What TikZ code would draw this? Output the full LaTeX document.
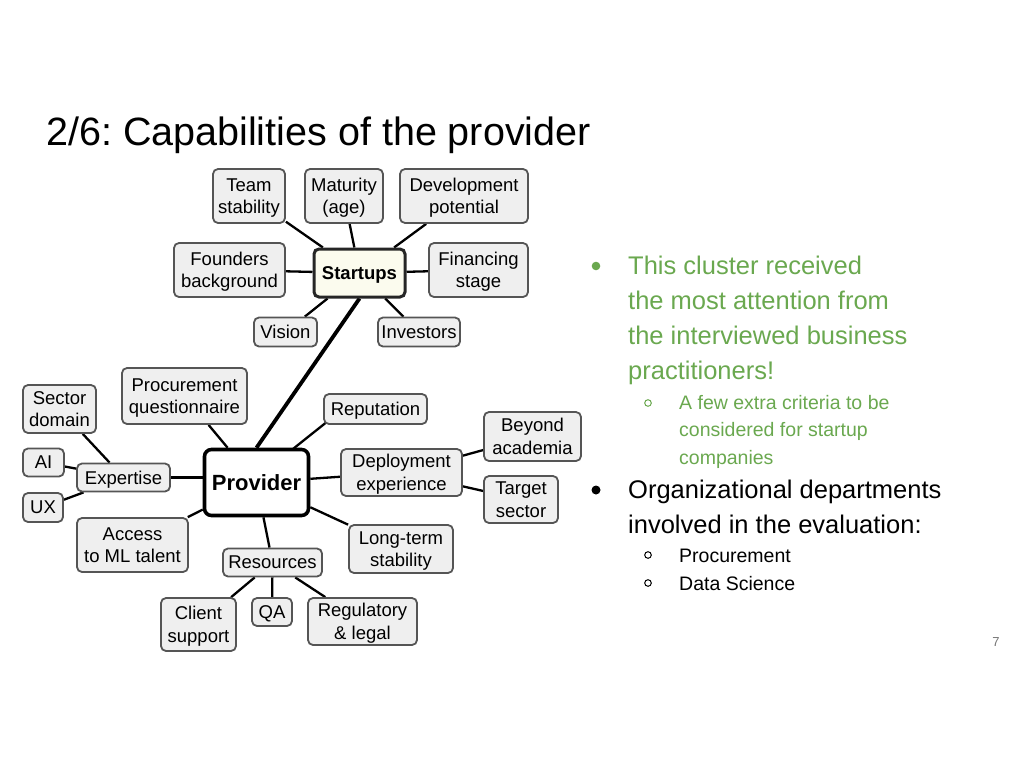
\documentclass[tikz,border=0pt]{standalone}
\usepackage{fontspec}
\setmainfont{Liberation Sans}
\frenchspacing
\usetikzlibrary{backgrounds,calc}
\definecolor{boxfill}{HTML}{EFEFEF}
\definecolor{boxline}{HTML}{555555}
\definecolor{stfill}{HTML}{FBFBEE}
\definecolor{grn}{HTML}{6AA84F}
\definecolor{pagegray}{HTML}{757575}
\begin{document}
\begin{tikzpicture}[x=1pt,y=-1pt,
  box/.style={draw=boxline, line width=1.8pt, fill=boxfill, rounded corners=5pt,
    inner sep=0pt, align=center, text depth=0pt, font=\fontsize{18.5}{22.5}\selectfont},
  hubbox/.style={box, draw=black!85, line width=3pt, fill=stfill, font=\bfseries\fontsize{18.5}{22}\selectfont},
  rootbox/.style={box, draw=black, line width=3.6pt, fill=white, rounded corners=7pt, font=\bfseries\fontsize{22}{26}\selectfont},
  link/.style={line width=2.3pt, black},
  biglink/.style={line width=3.8pt, black},
  mainline/.style={anchor=base west, inner sep=0pt, font=\fontsize{25.5}{30}\selectfont},
  subline/.style={anchor=base west, inner sep=0pt, font=\fontsize{19.5}{23}\selectfont},
]
\useasboundingbox (0,0) rectangle (1024,768);

% title
\node[anchor=base west, inner sep=0pt, font=\fontsize{39.5}{45}\selectfont] (title) at (46,145) {2/6: Capabilities of the provider};

% Startups cluster
\node[hubbox, minimum width=91pt, minimum height=48pt] (st) at (359.5,273) {Startups};
\node[box, minimum width=72pt, minimum height=54pt] (ts) at (249,196) {Team\\stability};
\node[box, minimum width=78pt, minimum height=54pt] (mat) at (344,196) {Maturity\\(age)};
\node[box, minimum width=128pt, minimum height=54pt] (dev) at (464,196) {Development\\potential};
\node[box, minimum width=111pt, minimum height=54pt] (fb) at (229.5,270) {Founders\\background};
\node[box, minimum width=99pt, minimum height=54pt] (fin) at (478.5,270) {Financing\\stage};
\node[box, minimum width=63pt, minimum height=29pt] (vis) at (285.5,332) {Vision};
\node[box, minimum width=82pt, minimum height=29pt] (inv) at (419,332) {Investors};

% Provider cluster
\node[rootbox, minimum width=104pt, minimum height=66pt] (pr) at (256.5,482.5) {Provider};
\node[box, minimum width=125pt, minimum height=56pt] (pq) at (184.5,396) {Procurement\\questionnaire};
\node[box, minimum width=73pt, minimum height=48pt] (sd) at (59.5,409) {Sector\\domain};
\node[box, minimum width=103pt, minimum height=30pt] (rep) at (375.5,409) {Reputation};
\node[box, minimum width=97pt, minimum height=49pt] (ba) at (532.5,436.5) {Beyond\\academia};
\node[box, minimum width=41pt, minimum height=28pt] (ai) at (43.5,462.5) {AI};
\node[box, minimum width=93pt, minimum height=28pt] (exp) at (123.5,477.5) {Expertise};
\node[box, minimum width=121pt, minimum height=47pt] (dep) at (401.5,472.5) {Deployment\\experience};
\node[box, minimum width=74pt, minimum height=47pt] (tsec) at (521,499.5) {Target\\sector};
\node[box, minimum width=40pt, minimum height=29pt] (ux) at (43,507.5) {UX};
\node[box, minimum width=111pt, minimum height=54pt] (acc) at (132.5,545) {Access\\to ML talent};
\node[box, minimum width=104pt, minimum height=48pt] (lt) at (401,549) {Long-term\\stability};
\node[box, minimum width=99pt, minimum height=28pt] (res) at (272.5,562.5) {Resources};
\node[box, minimum width=75pt, minimum height=53pt] (cs) at (198.5,624.5) {Client\\support};
\node[box, minimum width=40pt, minimum height=28pt] (qa) at (272,612) {QA};
\node[box, minimum width=109pt, minimum height=47pt] (reg) at (362.5,621.5) {Regulatory\\\& legal};

% connectors
\begin{scope}[on background layer]
\draw[link] (ts) -- (st);
\draw[link] (mat) -- (st);
\draw[link] (dev) -- (st);
\draw[link] (fb) -- (st);
\draw[link] (fin) -- (st);
\draw[link] (vis) -- (st);
\draw[link] (inv) -- (st);
\draw[biglink] (st.south) -- (pr.north);
\draw[link] (pq) -- (pr);
\draw[link] ($(pr.north east)+(-17,1)$) -- ($(rep.south west)+(5,-4)$);
\draw[link] (exp.east) -- (exp.east -| pr.west);
\draw[link] (sd) -- (exp);
\draw[link] (ai) -- (exp);
\draw[link] (ux) -- (exp);
\draw[link] (acc) -- (pr);
\draw[link] (res) -- (pr);
\draw[link] (cs) -- (res);
\draw[link] (qa) -- (res);
\draw[link] (reg) -- (res);
\draw[link] (dep) -- (pr);
\draw[link] (ba) -- (dep);
\draw[link] (tsec) -- (dep);
\draw[link] (lt) -- (pr);
\end{scope}

% right-hand text
\fill[grn] (596,266) circle (4.3pt);
\node[mainline, text=grn] (g1) at (628,274) {This cluster received};
\node[mainline, text=grn] (g2) at (628,309) {the most attention from};
\node[mainline, text=grn] (g3) at (628,344) {the interviewed business};
\node[mainline, text=grn] (g4) at (628,379) {practitioners!};
\draw[grn, line width=1pt] (648,403) circle (3.3pt);
\node[subline, text=grn] (s1) at (679,409) {A few extra criteria to be};
\node[subline, text=grn] (s2) at (679,436) {considered for startup};
\node[subline, text=grn] (s3) at (679,464) {companies};

\fill[black] (596,490) circle (4.5pt);
\node[mainline] (k1) at (628,498) {Organizational departments};
\node[mainline] (k2) at (628,533) {involved in the evaluation:};
\draw[black, line width=1pt] (648,555) circle (3.3pt);
\node[subline] (p1) at (679,562) {Procurement};
\draw[black, line width=1pt] (648,583) circle (3.3pt);
\node[subline] (p2) at (679,590) {Data Science};

\node[anchor=base, inner sep=0pt, text=pagegray, font=\fontsize{13}{15}\selectfont] (pg) at (996,646) {7};
\end{tikzpicture}
\end{document}
